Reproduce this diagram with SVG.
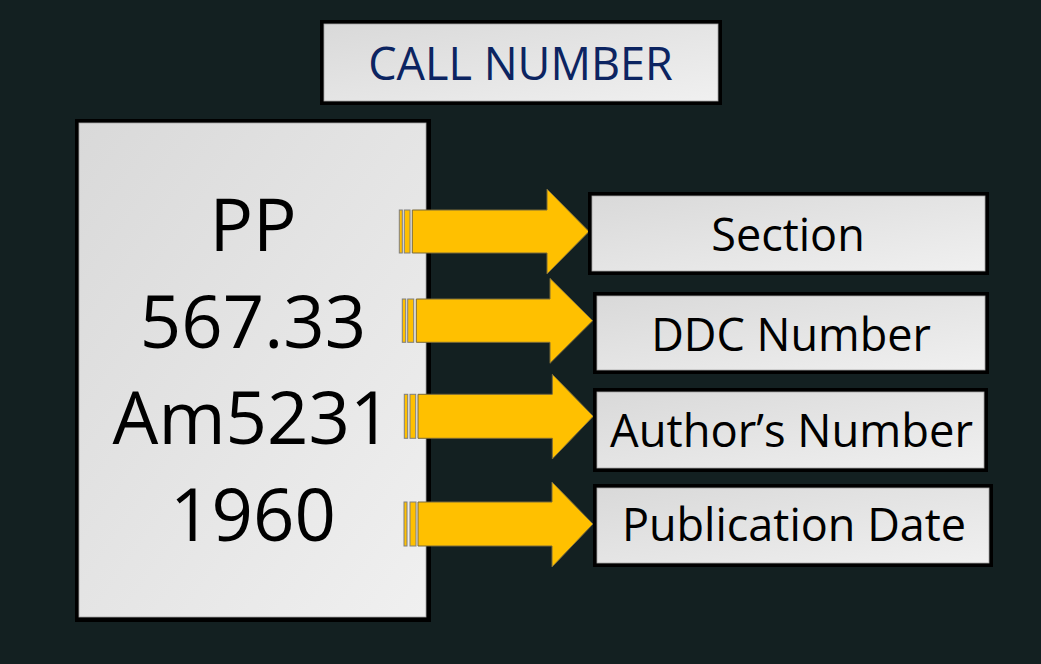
<svg xmlns="http://www.w3.org/2000/svg" width="1041" height="664" viewBox="0 0 1041 664">
  <defs>
    <linearGradient id="panel" x1="0" y1="0" x2="1" y2="1">
      <stop offset="0" stop-color="#d9d9d9"/>
      <stop offset="1" stop-color="#f0f0f0"/>
    </linearGradient>
    <style>
      .frame { fill: #000; }
      .face { fill: url(#panel); stroke: #a6a6a6; stroke-width: 0.8; }
      .label { font-family: "Open Sans", "Liberation Sans", sans-serif; font-size: 45px; fill: #000; text-anchor: middle; }
      .title { font-family: "Open Sans", "Liberation Sans", sans-serif; font-size: 45px; fill: #0c2461; text-anchor: middle; }
      .code { font-family: "Open Sans", "Liberation Sans", sans-serif; font-size: 72.5px; fill: #000; text-anchor: middle; }
      .arrow { fill: #ffc000; stroke: #7a6a3a; stroke-width: 1; stroke-linejoin: miter; }
      .stripe { fill: #ffc000; stroke: #7f7f7f; stroke-width: 1; }
    </style>
  </defs>

  <!-- background -->
  <rect x="0" y="0" width="1041" height="664" fill="#132021"/>

  <!-- heading -->
  <g id="title">
    <rect class="frame" x="320" y="20" width="402" height="85"/>
    <rect class="face" x="324" y="24" width="394" height="77"/>
    <text class="title" x="520.5" y="80">CALL NUMBER</text>
  </g>

  <!-- call number card -->
  <g id="call-number">
    <rect class="frame" x="75" y="119" width="356" height="503"/>
    <rect class="face" x="79" y="123" width="347" height="494"/>
    <text class="code" x="253" y="251">PP</text>
    <text class="code" x="253" y="348">567.33</text>
    <text class="code" x="252" y="444">Am5231</text>
    <text class="code" x="253" y="541">1960</text>
  </g>

  <!-- block arrows with striped tails -->
  <g id="connectors">
    <g>
      <rect class="stripe" x="399.3" y="210" width="3" height="43"/>
      <rect class="stripe" x="404.3" y="210" width="5.7" height="43"/>
      <polygon class="arrow" points="412.3,210 547,210 547,189 589,231.5 547,274 547,253 412.3,253"/>
    </g>
    <g>
      <rect class="stripe" x="402.3" y="299" width="3.4" height="43.3"/>
      <rect class="stripe" x="407.7" y="299" width="6" height="43.3"/>
      <polygon class="arrow" points="416.3,299 550,299 550,278.3 592.7,320.7 550,363.3 550,342.3 416.3,342.3"/>
    </g>
    <g>
      <rect class="stripe" x="404.3" y="394.3" width="3.4" height="44"/>
      <rect class="stripe" x="410" y="394.3" width="5.7" height="44"/>
      <polygon class="arrow" points="418,394.3 552.3,394.3 552.3,374.3 593.3,416.3 552.3,459 552.3,438.3 418,438.3"/>
    </g>
    <g>
      <rect class="stripe" x="404" y="502" width="3" height="44"/>
      <rect class="stripe" x="410" y="502" width="6" height="44"/>
      <polygon class="arrow" points="418,502 552,502 552,482 593,524 552,567 552,546 418,546"/>
    </g>
  </g>

  <!-- meaning of each part -->
  <g id="section">
    <rect class="frame" x="588" y="192" width="401" height="83"/>
    <rect class="face" x="592" y="196" width="393" height="75"/>
    <text class="label" x="788" y="251">Section</text>
  </g>
  <g id="ddc-number">
    <rect class="frame" x="593" y="292" width="396" height="82"/>
    <rect class="face" x="597" y="296" width="388" height="74"/>
    <text class="label" x="791" y="351">DDC Number</text>
  </g>
  <g id="authors-number">
    <rect class="frame" x="593" y="388" width="395" height="84"/>
    <rect class="face" x="597" y="392" width="387" height="76"/>
    <text class="label" x="791.5" y="447" textLength="363" lengthAdjust="spacingAndGlyphs">Author’s Number</text>
  </g>
  <g id="publication-date">
    <rect class="frame" x="593" y="484" width="400" height="83"/>
    <rect class="face" x="597" y="488" width="392" height="75"/>
    <text class="label" x="794" y="541">Publication Date</text>
  </g>
</svg>
